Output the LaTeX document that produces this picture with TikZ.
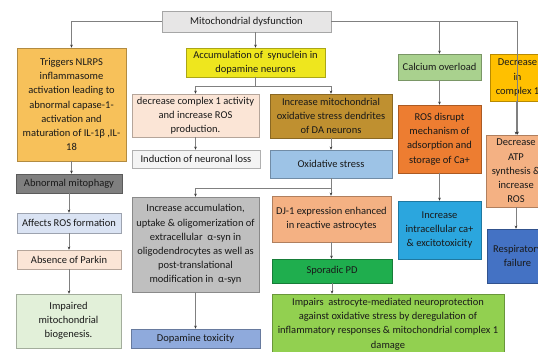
\documentclass[tikz,border=0pt]{standalone}
\usepackage{fontspec}
\setmainfont{Carlito}
\usetikzlibrary{arrows.meta}
\begin{document}
\begin{tikzpicture}[x=1pt,y=-1pt,
  box/.style={draw=#1!72!black, fill=#1, line width=0.6pt, align=center, inner sep=1pt,
    font=\fontsize{10.5}{14.2}\selectfont, text=black!90},
  arr/.style={draw=black!50, line width=0.6pt, -{Stealth[length=3pt,width=2.6pt,color=black!80]}},
  ln/.style={draw=black!50, line width=0.6pt}]
\definecolor{cMito}{HTML}{E7E6E6}
\definecolor{cTrig}{HTML}{F7C15A}
\definecolor{cAcc}{HTML}{EEE61E}
\definecolor{cCalc}{HTML}{A9D18E}
\definecolor{cDecc}{HTML}{FFC000}
\definecolor{cDecA}{HTML}{FBE5D6}
\definecolor{cIncm}{HTML}{BF9030}
\definecolor{cInd}{HTML}{F4F4F4}
\definecolor{cOxs}{HTML}{9DC3E6}
\definecolor{cRos}{HTML}{ED7D31}
\definecolor{cAtp}{HTML}{F4B183}
\definecolor{cIca}{HTML}{2BA6DE}
\definecolor{cResp}{HTML}{4472C4}
\definecolor{cAbm}{HTML}{7F7F7F}
\definecolor{cAros}{HTML}{DAE3F3}
\definecolor{cImp}{HTML}{E2F0D9}
\definecolor{cGrey}{HTML}{BFBFBF}
\definecolor{cDopt}{HTML}{8FAADC}
\definecolor{cSpd}{HTML}{1FAE4E}
\definecolor{cImps}{HTML}{92D050}
\useasboundingbox (0,0) rectangle (538,351);
\clip (0,0) rectangle (538,351);
\fill[white] (0,0) rectangle (538,351);

\node[box=cMito, minimum width=169pt, minimum height=21pt] (mito) at (246.5,21.5) {Mitochondrial dysfunction};
\node[box=cTrig, minimum width=109pt, minimum height=113pt] (trig) at (71.5,104.5)
  {Triggers NLRPS\\inflammasome\\activation leading to\\abnormal capase-1-\\activation and\\maturation of IL-1β ,IL-\\18};
\node[box=cAcc, minimum width=139pt, minimum height=29pt] (accum) at (255.5,62.5)
  {Accumulation of\ \ synuclein in\\dopamine neurons};
\node[box=cCalc, minimum width=83pt, minimum height=26pt] (calc) at (439.5,67) {Calcium overload};
\node[box=cDecc, minimum width=55pt, minimum height=47pt] (decc) at (517.5,77.5) {Decrease\\in\\complex 1};
\node[box=cDecA, minimum width=127pt, minimum height=43pt] (dec1) at (195.5,115.5)
  {decrease complex 1 activity\\and increase ROS\\production.};
\node[box=cIncm, minimum width=122pt, minimum height=44pt] (incm) at (331,116)
  {Increase mitochondrial\\oxidative stress dendrites\\of DA neurons};
\node[box=cInd, minimum width=128pt, minimum height=18pt] (ind) at (196,159) {Induction of neuronal loss};
\node[box=cOxs, minimum width=122pt, minimum height=28pt] (oxs) at (331,164) {Oxidative stress};
\node[box=cRos, minimum width=83pt, minimum height=68pt] (rosd) at (439.5,139)
  {ROS disrupt\\mechanism of\\adsorption and\\storage of Ca+};
\node[box=cAtp, minimum width=60pt, minimum height=72pt] (datp) at (516,171)
  {Decrease\\ATP\\synthesis \&\\increase\\ROS};
\node[box=cIca, minimum width=83pt, minimum height=58pt] (icaz) at (439.5,230)
  {Increase\\intracellular ca+\\\& excitotoxicity};
\node[box=cResp, minimum width=61pt, minimum height=54pt] (resp) at (517.5,256) {Respiratory\\failure};
\node[box=cAbm, minimum width=106pt, minimum height=19pt] (abm) at (69,183.5) {Abnormal mitophagy};
\node[box=cAros, minimum width=104pt, minimum height=20pt] (aros) at (69,223) {Affects ROS formation};
\node[box=cDecA, minimum width=104pt, minimum height=19pt] (absp) at (69,259.5) {Absence of Parkin};
\node[box=cImp, minimum width=105pt, minimum height=54pt] (imp) at (68.5,321)
  {Impaired\\mitochondrial\\biogenesis.};
\node[box=cGrey, minimum width=127pt, minimum height=95pt] (gbox) at (195.5,244.5)
  {Increase accumulation,\\uptake \& oligomerization of\\extracellular\ \ α-syn in\\oligodendrocytes as well as\\post-translational\\modification in\ \ α-syn};
\node[box=cDopt, minimum width=129pt, minimum height=19pt] (dopt) at (195.5,338.5) {Dopamine toxicity};
\node[box=cAtp, minimum width=119pt, minimum height=46pt] (dj1) at (331.5,219)
  {DJ-1 expression enhanced\\in reactive astrocytes};
\node[box=cSpd, minimum width=120pt, minimum height=24pt] (spd) at (332,271) {Sporadic PD};
\node[box=cImps, minimum width=232pt, minimum height=60pt] (imps) at (388,324)
  {Impairs\ \ astrocyte-mediated neuroprotection\\against oxidative stress by deregulation of\\inflammatory responses \& mitochondrial complex 1\\damage};

% connectors
\draw[arr] (mito.west) -| (trig.north);
\draw[arr] (mito.south -| accum.north) -- (accum.north);
\draw[arr] (mito.east) -| (datp.north -| decc.north);
\draw[arr] (calc.north |- mito.east) -- (calc.north);
\coordinate (j1) at (255.5,86);
\draw[ln] (accum.south) -- (j1);
\draw[arr] (j1) -| (dec1.north);
\draw[arr] (j1) -| (incm.north);
\draw[arr] (dec1.south) -- (dec1.south |- ind.north);
\draw[arr] (incm.south) -- (incm.south |- oxs.north);
\coordinate (j2) at (331,188);
\draw[arr] (oxs.south) -- (oxs.south |- dj1.north);
\draw[arr] (j2) -| (gbox.north);
\draw[arr] (gbox.south) -- (gbox.south |- dopt.north);
\draw[arr] (dj1.south) -- (dj1.south |- spd.north);
\draw[arr] (spd.south) -- (spd.south |- imps.north);
\draw[arr] (trig.south) -- (trig.south |- abm.north);
\draw[arr] (abm.south) -- (abm.south |- aros.north);
\draw[arr] (aros.south) -- (aros.south |- absp.north);
\draw[arr] (absp.south) -- (absp.south |- imp.north);
\draw[arr] (calc.south) -- (calc.south |- rosd.north);
\draw[arr] (rosd.south) -- (rosd.south |- icaz.north);
\draw[arr] (decc.south -| datp.north) -- (datp.north);
\draw[arr] (datp.south) -- (datp.south |- resp.north);
\end{tikzpicture}
\end{document}
